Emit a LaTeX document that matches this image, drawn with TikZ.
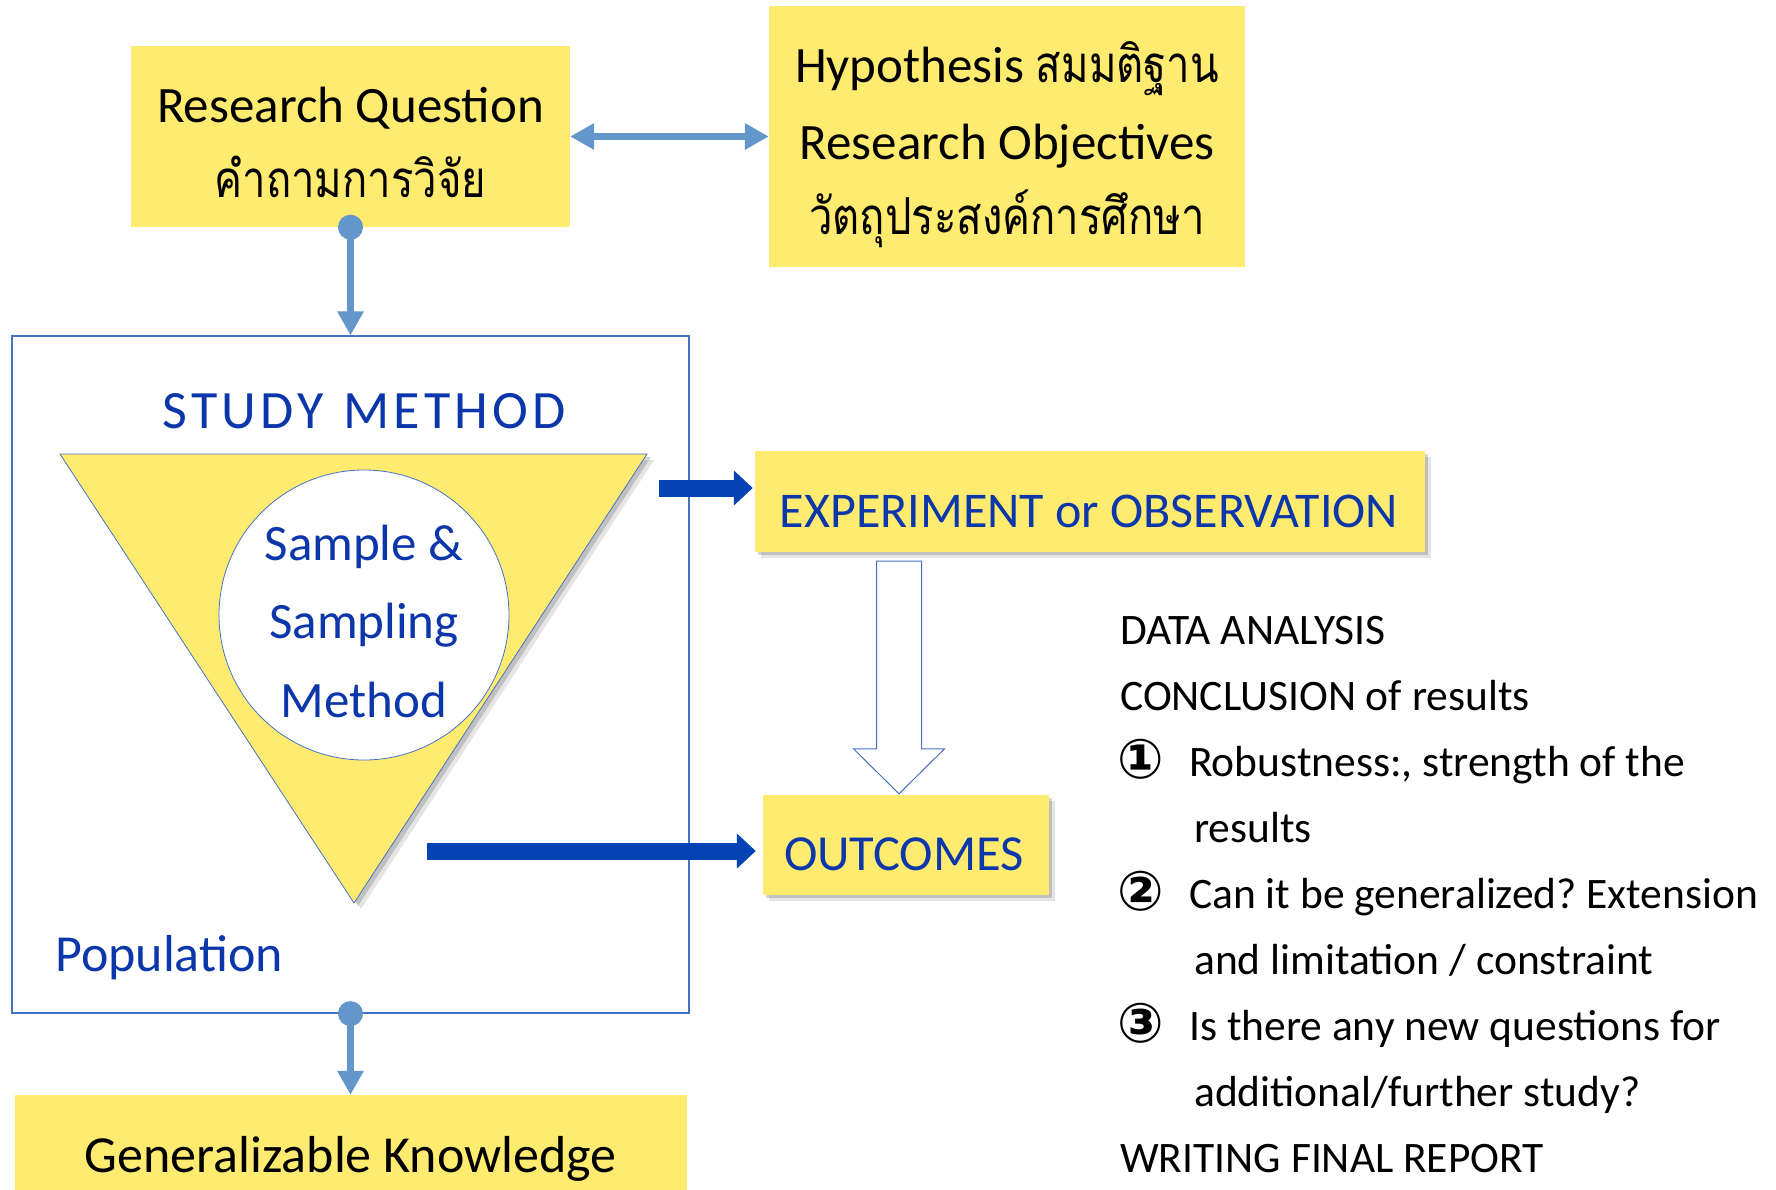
\documentclass[tikz,border=0pt]{standalone}
\usepackage{fontspec}
\setmainfont{Carlito}
\newfontfamily\thaifont[Script=Thai, FakeStretch=0.82]{Loma}
\newfontfamily\symfont{DejaVu Sans}
\usetikzlibrary{arrows.meta,calc,shadows}
\frenchspacing

\definecolor{boxyellow}{RGB}{255,235,112}
\definecolor{linkblue}{RGB}{99,151,203}
\definecolor{deepblue}{RGB}{4,67,180}
\definecolor{inkblue}{RGB}{12,55,170}
\definecolor{edgeblue}{RGB}{68,114,196}

\tikzset{
  ybox/.style={fill=boxyellow, draw=none, inner sep=0pt},
  shadowed/.style={
    drop shadow={shadow xshift=3pt, shadow yshift=-3pt, fill=black, opacity=0.16},
    drop shadow={shadow xshift=6pt, shadow yshift=-6pt, fill=black, opacity=0.10}},
  blacktext/.style={font=\fontsize{51}{60}\selectfont, text=black, inner sep=0pt, anchor=base},
  bluetext/.style={font=\fontsize{51}{60}\selectfont, text=inkblue, inner sep=0pt, anchor=base},
  listtext/.style={font=\fontsize{43.5}{50}\selectfont, text=black, inner sep=0pt, anchor=base west},
  numtext/.style={font=\symfont\bfseries\fontsize{55}{60}\selectfont, text=black, inner sep=0pt, anchor=base west},
  thinlink/.style={linkblue, line width=7.5pt, -{Triangle[length=24pt,width=25pt]}},
  thicklink/.style={deepblue, line width=17pt, -{Triangle[length=19pt,width=34pt]}},
  linkdot/.style={fill=linkblue},
}

\begin{document}
\begin{tikzpicture}[x=1pt,y=-1pt]
\useasboundingbox (0,0) rectangle (1776,1190);

% ---- top row: question and hypothesis boxes
\node[ybox, minimum width=439pt, minimum height=181pt] (rq) at (350.5,136.5) {};
\node[blacktext] (rqa) at (350.5,123) {Research Question};
\node[blacktext] (rqb) at (350.5,198) {\thaifont คำถามการวิจัย};

\node[ybox, minimum width=476pt, minimum height=261pt] (hyp) at (1007,136.5) {};
\node[blacktext] (hypa) at (1007,83) {Hypothesis {\thaifont สมมติฐาน}};
\node[blacktext] (hypb) at (1007,160) {Research Objectives};
\node[blacktext] (hypc) at (1007,235) {\thaifont วัตถุประสงค์การศึกษา};

\draw[linkblue, line width=7.5pt,
      {Triangle[length=24pt,width=25pt]}-{Triangle[length=24pt,width=25pt]}]
  (rq.east) -- (hyp.west);

% ---- study method frame
\node[draw=edgeblue, line width=1.2pt, minimum width=677pt, minimum height=677pt,
      inner sep=0pt] (sm) at (350.5,674.5) {};

\fill[linkdot] (rq.south) circle (12.5pt);
\draw[thinlink] (rq.south) -- (sm.north);

\node[bluetext, font=\fontsize{54}{60}\selectfont] (smt) at (364,428)
  {S\kern4.2pt T\kern4.2pt U\kern4.2pt D\kern4.2pt Y\hspace{19pt}M\kern4.2pt E\kern4.2pt T\kern4.2pt H\kern4.2pt O\kern4.2pt D};

% inverted triangle with its shadow
\coordinate (t1) at (60,454);
\coordinate (t2) at (647,454);
\coordinate (t3) at (354,903);
\fill[black, opacity=0.10] ($(t1)+(7,6)$) -- ($(t2)+(7,6)$) -- ($(t3)+(7,6)$) -- cycle;
\fill[black, opacity=0.16] ($(t1)+(4,3)$) -- ($(t2)+(4,3)$) -- ($(t3)+(4,3)$) -- cycle;
\filldraw[fill=boxyellow, draw=edgeblue, line width=0.8pt] (t1) -- (t2) -- (t3) -- cycle;

\node[circle, draw=edgeblue, fill=white, line width=0.8pt, minimum size=290pt,
      inner sep=0pt] (smp) at (364,615) {};
\node[bluetext] (smpa) at (364,560) {Sample \&};
\node[bluetext] (smpb) at (364,638) {Sampling};
\node[bluetext] (smpc) at (364,717) {Method};

\node[bluetext, anchor=base west, font=\fontsize{52}{60}\selectfont] (pop) at (55,971) {Population};

% ---- bottom box
\node[ybox, minimum width=672pt, minimum height=115pt] (gk) at (350.5,1152.5) {};
\node[blacktext, font=\fontsize{52}{60}\selectfont] (gkt) at (350.5,1172) {Generalizable Knowledge};

\fill[linkdot] (sm.south) circle (12.5pt);
\draw[thinlink] (sm.south) -- (gk.north);

% ---- experiment and outcomes
\node[ybox, shadowed, minimum width=670pt, minimum height=101pt] (exp) at (1090,501.5) {};
\node[bluetext, font=\fontsize{50}{60}\selectfont] (expt) at (1089,527) {EXPERIMENT or OBSERVATION};

\node[ybox, shadowed, minimum width=286pt, minimum height=100pt] (out) at (906,845) {};
\node[bluetext, font=\fontsize{50.5}{60}\selectfont] (outt) at (904,870) {OUTCOMES};

\coordinate (ea) at (659,488);
\draw[thicklink, shorten >=2pt] (ea) -- (ea -| exp.west);
\coordinate (oa) at (427,851);
\draw[thicklink, shorten >=7pt] (oa) -- (oa -| out.west);

% hollow block arrow from experiment down to outcomes
\coordinate (hx) at (899,0);
\coordinate (ht) at ($(hx |- exp.south)+(0,9)$);
\coordinate (hb) at ($(hx |- out.north)+(0,-1)$);
\draw[edgeblue, fill=white, line width=1pt]
  ($(ht)+(-22.5,0)$) -- ($(hb)+(-22.5,-45)$) -- ($(hb)+(-45.5,-45)$) -- (hb)
  -- ($(hb)+(45.5,-45)$) -- ($(hb)+(22.5,-45)$) -- ($(ht)+(22.5,0)$) -- cycle;

% ---- analysis notes
\node[listtext] (l1) at (1120,644) {DATA ANALYSIS};
\node[listtext] (l2) at (1120,710) {CONCLUSION of results};
\node[numtext]  (n1) at (1117,778) {①};
\node[listtext] (l3) at (1189,776) {Robustness:, strength of the};
\node[listtext] (l4) at (1194,842) {results};
\node[numtext]  (n2) at (1117,910) {②};
\node[listtext] (l5) at (1189,908) {Can it be generalized? Extension};
\node[listtext] (l6) at (1194,974) {and limitation / constraint};
\node[numtext]  (n3) at (1117,1042) {③};
\node[listtext] (l7) at (1189,1040) {Is there any new questions for};
\node[listtext] (l8) at (1194,1106) {additional/further study?};
\node[listtext] (l9) at (1120,1172) {WRITING FINAL REPORT};
\end{tikzpicture}
\end{document}
